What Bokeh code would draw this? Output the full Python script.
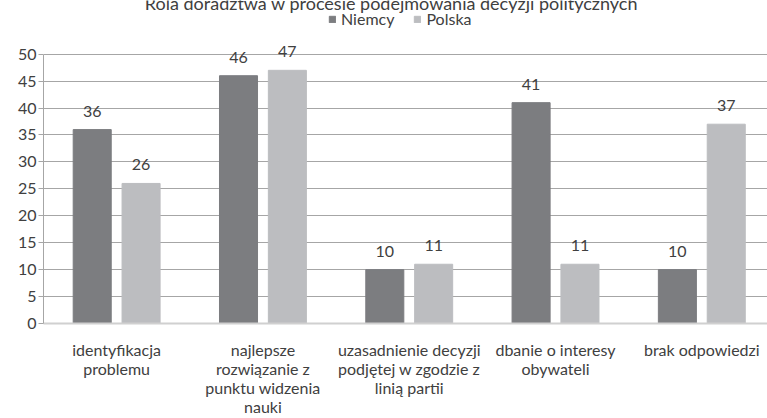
from bokeh.plotting import figure
from bokeh.models import (ColumnDataSource, Range1d, FixedTicker, Legend, LegendItem,
                          LabelSet, Label)
from bokeh.core.properties import value
from bokeh.transform import dodge
from bokeh.embed import file_html
from bokeh.resources import INLINE

# ---- data ----
title_text = "Rola doradztwa w procesie podejmowania decyzji politycznych"
categories = [
    "identyfikacja\nproblemu",
    "najlepsze\nrozwiązanie z\npunktu widzenia\nnauki",
    "uzasadnienie decyzji\npodjętej w zgodzie z\nlinią partii",
    "dbanie o interesy\nobywateli",
    "brak odpowiedzi",
]
niemcy = [36, 46, 10, 41, 10]
polska = [26, 47, 11, 11, 37]
y_ticks = [0, 5, 10, 15, 20, 25, 30, 35, 40, 45, 50]
series_names = ["Niemcy", "Polska"]

FONT = "Lato"
TXT = "#404040"
C_NIEMCY = "#7c7d80"
C_POLSKA = "#bcbdc0"

idx = list(range(len(categories)))
src = ColumnDataSource(dict(
    x=idx, niemcy=niemcy, polska=polska,
    niemcy_t=[str(v) for v in niemcy], polska_t=[str(v) for v in polska],
))

YMAX = max(y_ticks)
p = figure(width=767, height=418,
           x_range=Range1d(-0.5, 4.449), y_range=Range1d(0, YMAX * 325 / 271),
           output_backend="svg", toolbar_location=None,
           min_border_left=43, min_border_right=0,
           min_border_top=0, min_border_bottom=93,
           outline_line_color=None, background_fill_color="white")

BW = 0.26
OFF = 0.167
r1 = p.vbar(x=dodge("x", -OFF, range=p.x_range), top="niemcy", width=BW, source=src,
            fill_color=C_NIEMCY, line_color=C_NIEMCY)
r2 = p.vbar(x=dodge("x", OFF, range=p.x_range), top="polska", width=BW, source=src,
            fill_color=C_POLSKA, line_color=C_POLSKA)

for col, off in (("niemcy", -OFF), ("polska", OFF)):
    p.add_layout(LabelSet(x=dodge("x", off, range=p.x_range), y=col, text=col + "_t",
                          source=src, text_align="center", text_baseline="alphabetic",
                          y_offset=13, text_font=value(FONT), text_font_size="16px",
                          text_color=TXT))

# axes
p.yaxis.ticker = FixedTicker(ticks=y_ticks)
p.yaxis.bounds = (0, YMAX)
p.yaxis.axis_line_color = "#a6a6a6"
p.yaxis.major_tick_line_color = "#a6a6a6"
p.yaxis.major_tick_out = 5
p.yaxis.major_tick_in = 0
p.yaxis.minor_tick_line_color = None
p.yaxis.major_label_standoff = 2
p.yaxis.major_label_text_font = FONT
p.yaxis.major_label_text_font_size = "16px"
p.yaxis.major_label_text_color = TXT

p.xaxis.ticker = FixedTicker(ticks=idx)
p.xaxis.major_label_overrides = {i: c for i, c in zip(idx, categories)}
p.xaxis.axis_line_color = "#d0d0d0"
p.xaxis.axis_line_width = 2
p.xaxis.major_tick_line_color = None
p.xaxis.minor_tick_line_color = None
p.xaxis.major_tick_out = 0
p.xaxis.major_tick_in = 0
p.xaxis.major_label_standoff = 16
p.xaxis.major_label_text_font = FONT
p.xaxis.major_label_text_font_size = "16px"
p.xaxis.major_label_text_color = TXT
p.xaxis.major_label_text_line_height = 1.0

p.xgrid.visible = False
p.ygrid.grid_line_color = "#a6a6a6"
p.ygrid.ticker = FixedTicker(ticks=y_ticks)

legend = Legend(items=[LegendItem(label=series_names[0], renderers=[r1]),
                       LegendItem(label=series_names[1], renderers=[r2])],
                orientation="horizontal", location=(285, 295),
                glyph_width=8, glyph_height=8, label_standoff=5, spacing=19,
                padding=0, margin=0, label_height=16,
                border_line_color=None, background_fill_alpha=0,
                label_text_font=FONT, label_text_font_size="16px",
                label_text_color=TXT)
p.add_layout(legend, "center")

p.add_layout(Label(x=348, y=321, x_units="screen", y_units="screen", text=title_text,
                   text_align="center", text_baseline="alphabetic",
                   text_font=FONT, text_font_size="18px", text_color=TXT))

open("out.html", "w").write(file_html(p, INLINE))
